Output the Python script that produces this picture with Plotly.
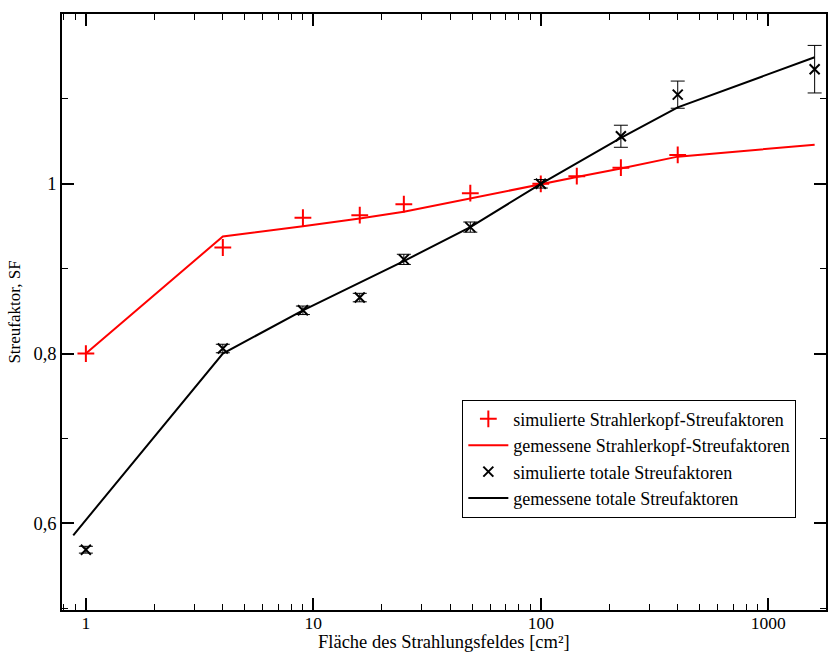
import plotly.graph_objects as go

# simulated head scatter factors (red +)
sim_head_x = [1, 4, 9, 16, 25, 49, 100, 144, 225, 400]
sim_head_y = [0.800, 0.925, 0.960, 0.963, 0.976, 0.989, 1.000, 1.009, 1.019, 1.034]

# measured head scatter factors (red line)
meas_head_x = [1, 4, 9, 16, 25, 49, 100, 144, 225, 400, 1600]
meas_head_y = [0.800, 0.938, 0.950, 0.959, 0.967, 0.983, 1.000, 1.008, 1.018, 1.032, 1.046]

# simulated total scatter factors (black x) with errors
sim_tot_x = [1, 4, 9, 16, 25, 49, 100, 225, 400, 1600]
sim_tot_y = [0.569, 0.806, 0.851, 0.866, 0.911, 0.949, 1.000, 1.056, 1.105, 1.135]
sim_tot_err = [0.004, 0.005, 0.005, 0.005, 0.006, 0.006, 0.005, 0.013, 0.016, 0.028]

# measured total scatter factors (black line)
meas_tot_x = [0.88, 4, 9, 25, 49, 100, 225, 400, 1600]
meas_tot_y = [0.586, 0.800, 0.851, 0.909, 0.949, 1.000, 1.054, 1.090, 1.149]

y_tickvals = [0.6, 0.8, 1.0]
y_ticktext = ["0,6", "0,8", "1"]
x_tickvals = [1, 10, 100, 1000]
x_ticktext = ["1", "10", "100", "1000"]

x_minor = [m * d for d in [0.1, 1, 10, 100, 1000] for m in range(2, 10)]
y_minor = [0.5, 0.7, 0.9, 1.1]

FONT = "Liberation Serif"

fig = go.Figure()
fig.add_trace(go.Scatter(
    x=sim_head_x, y=sim_head_y, mode="markers",
    name="simulierte Strahlerkopf-Streufaktoren",
    marker=dict(symbol="cross-thin", size=12, color="red",
                line=dict(color="red", width=2)),
))
fig.add_trace(go.Scatter(
    x=meas_head_x, y=meas_head_y, mode="lines",
    name="gemessene Strahlerkopf-Streufaktoren",
    line=dict(color="red", width=2),
))
fig.add_trace(go.Scatter(
    x=sim_tot_x, y=sim_tot_y, mode="markers",
    name="simulierte totale Streufaktoren",
    marker=dict(symbol="x-thin", size=10, color="black",
                line=dict(color="black", width=2)),
    error_y=dict(type="data", array=sim_tot_err, visible=True,
                 color="black", thickness=1, width=7),
))
fig.add_trace(go.Scatter(
    x=meas_tot_x, y=meas_tot_y, mode="lines",
    name="gemessene totale Streufaktoren",
    line=dict(color="black", width=2),
))

fig.update_layout(
    width=831, height=653,
    margin=dict(l=62, r=3, t=14, b=43),
    paper_bgcolor="white", plot_bgcolor="white",
    font=dict(family=FONT, size=18, color="black"),
    showlegend=True,
    legend=dict(
        x=0.524, y=0.353, xanchor="left", yanchor="top",
        bordercolor="black", borderwidth=1, bgcolor="white",
        font=dict(family=FONT, size=18),
        tracegroupgap=0, itemwidth=40,
    ),
    xaxis=dict(
        type="log", range=[-0.105, 3.254],
        tickmode="array", tickvals=x_tickvals, ticktext=x_ticktext,
        ticks="inside", ticklen=12, tickwidth=1.5, tickcolor="black",
        showline=True, linecolor="black", linewidth=1.5, mirror="ticks",
        showgrid=False, zeroline=False, ticklabelstandoff=-4,
        minor=dict(tickmode="array", tickvals=x_minor, ticks="inside",
                   ticklen=6, tickwidth=1, tickcolor="black", showgrid=False),
        tickfont=dict(family=FONT, size=17.5),
    ),
    yaxis=dict(
        range=[0.498, 1.2],
        tickmode="array", tickvals=y_tickvals, ticktext=y_ticktext,
        ticks="inside", ticklen=12, tickwidth=1.5, tickcolor="black",
        showline=True, linecolor="black", linewidth=1.5, mirror="ticks",
        showgrid=False, zeroline=False,
        minor=dict(tickmode="array", tickvals=y_minor, ticks="inside",
                   ticklen=6, tickwidth=1, tickcolor="black", showgrid=False),
        title=dict(text="Streufaktor, SF", standoff=8,
                   font=dict(family=FONT, size=17)),
        tickfont=dict(family=FONT, size=18.5),
    ),
    annotations=[dict(
        text="Fläche des Strahlungsfeldes [cm²]",
        xref="paper", yref="paper", x=0.5, y=0,
        xanchor="center", yanchor="top", yshift=-21,
        showarrow=False, borderpad=0,
        font=dict(family=FONT, size=18.5),
    )],
)

fig.write_html("out.html")
